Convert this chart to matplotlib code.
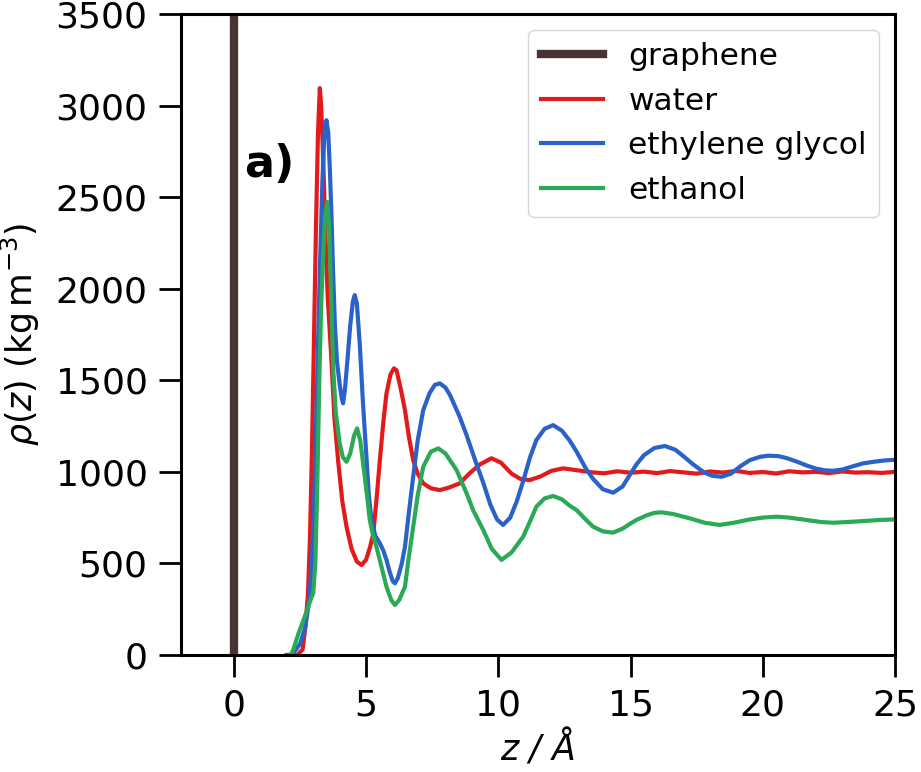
import matplotlib

matplotlib.use("Agg")
import matplotlib.pyplot as plt

# density profiles rho(z) next to a graphene sheet
graphene_z = 0.0

water_z = [
    2.0, 2.4, 2.6, 2.7, 2.8, 2.88, 2.95, 3.02, 3.1, 3.18, 3.25, 3.3, 3.38,
    3.46, 3.55, 3.69, 3.8, 3.94, 4.1, 4.26, 4.45, 4.65, 4.83, 5.0, 5.15,
    5.27, 5.4, 5.52, 5.65, 5.77, 5.92, 6.05, 6.15, 6.3, 6.47, 6.62, 6.78,
    6.95, 7.16, 7.45, 7.79, 8.15, 8.54, 8.9, 9.3, 9.74, 10.1, 10.5, 10.85,
    11.19, 11.6, 12.0, 12.45, 12.9, 13.5, 14.0, 14.5, 15.0, 15.5, 16.0,
    16.5, 17.0, 17.5, 18.0, 18.5, 19.0, 19.5, 20.0, 20.5, 21.0, 21.5, 22.0,
    22.5, 23.0, 23.5, 24.0, 24.5, 25.0,
]
water_rho = [
    0, 0, 30, 150, 330, 650, 1100, 1650, 2300, 2850, 3095, 3000, 2700,
    2300, 1950, 1610, 1300, 1064, 840, 700, 580, 510, 491, 520, 590,
    660, 860, 1064, 1270, 1428, 1530, 1565, 1555, 1460, 1337, 1190, 1064,
    990, 937, 910, 900, 915, 937, 990, 1040, 1074, 1050, 990, 960,
    955, 975, 1005, 1019, 1010, 998, 992, 1003, 995, 1001, 993,
    1004, 997, 990, 1002, 996, 1005, 994, 999, 991, 1003, 997, 1000,
    993, 1002, 996, 998, 994, 1000,
]

glycol_z = [
    2.2, 2.5, 2.7, 2.85, 2.95, 3.05, 3.15, 3.25, 3.35, 3.43, 3.5, 3.57,
    3.63, 3.69, 3.75, 3.82, 3.9, 4.0, 4.08, 4.13, 4.2, 4.3, 4.4, 4.5, 4.57,
    4.65, 4.76, 4.88, 5.02, 5.1, 5.2, 5.35, 5.52, 5.65, 5.77, 5.9, 6.0,
    6.09, 6.2, 6.35, 6.47, 6.62, 6.78, 6.95, 7.16, 7.4, 7.6, 7.79, 8.0,
    8.17, 8.54, 8.8, 9.18, 9.43, 9.7, 9.95, 10.18, 10.45, 10.7, 10.94,
    11.2, 11.44, 11.75, 12.07, 12.4, 12.7, 12.96, 13.3, 13.59, 13.95,
    14.34, 14.7, 15.0, 15.22, 15.5, 15.9, 16.3, 16.7, 17.0, 17.37, 17.8,
    18.1, 18.44, 18.8, 19.15, 19.51, 19.9, 20.2, 20.58, 20.9, 21.3, 21.65,
    22.0, 22.35, 22.66, 23.0, 23.4, 23.79, 24.2, 24.6, 25.0,
]
glycol_rho = [
    0, 60, 150, 300, 500, 900, 1500, 2100, 2600, 2860, 2920, 2850,
    2650, 2400, 2101, 1800, 1600, 1480, 1400, 1374, 1450, 1620, 1800, 1930,
    1965, 1920, 1700, 1380, 1064, 880, 737, 650, 610, 570, 519, 450, 405,
    391, 420, 500, 591, 780, 973, 1170, 1337, 1430, 1475, 1483, 1460,
    1420, 1300, 1200, 1040, 940, 820, 740, 710, 750, 840, 950,
    1080, 1174, 1235, 1255, 1225, 1170, 1110, 1020, 960, 905,
    886, 920, 990, 1040, 1090, 1130, 1141, 1120, 1085, 1040, 995,
    978, 973, 990, 1030, 1064, 1082, 1088, 1086, 1075, 1055, 1035,
    1018, 1008, 1006, 1012, 1030, 1046, 1055, 1062, 1066,
]

ethanol_z = [
    2.15, 2.24, 2.45, 2.68, 2.85, 3.0, 3.08, 3.15, 3.23, 3.3, 3.38, 3.45,
    3.53, 3.6, 3.68, 3.76, 3.85, 4.0, 4.12, 4.26, 4.4, 4.55, 4.66, 4.78,
    4.95, 5.05, 5.14, 5.25, 5.39, 5.55, 5.77, 5.95, 6.09, 6.25, 6.47, 6.6,
    6.78, 6.95, 7.16, 7.45, 7.73, 8.0, 8.17, 8.42, 8.8, 9.05, 9.43, 9.75,
    10.12, 10.5, 10.94, 11.2, 11.44, 11.75, 12.07, 12.4, 12.7, 12.96, 13.3,
    13.59, 13.95, 14.34, 14.7, 15.0, 15.22, 15.6, 15.9, 16.17, 16.6, 17.0,
    17.24, 17.8, 18.37, 18.9, 19.51, 20.0, 20.52, 21.0, 21.65, 22.2, 22.66,
    23.2, 23.79, 24.4, 25.0,
]
ethanol_rho = [
    0, 27, 120, 209, 280, 338, 500, 900, 1500, 1900, 2200, 2400,
    2474, 2350, 1950, 1556, 1330, 1156, 1080, 1055, 1100, 1200, 1237, 1170,
    973, 850, 737, 660, 591, 500, 373, 300, 273, 300, 373, 520,
    700, 870, 1028, 1110, 1128, 1100, 1064, 1010, 883, 790, 682, 580,
    519, 560, 646, 730, 810, 855, 868, 850, 815, 791, 740,
    700, 675, 668, 690, 718, 737, 762, 776, 779, 770, 755,
    746, 722, 710, 722, 740, 750, 755, 750, 737, 726, 722,
    726, 731, 737, 740,
]

x_ticks = [0, 5, 10, 15, 20, 25]
y_ticks = [0, 500, 1000, 1500, 2000, 2500, 3000, 3500]


def main():
    plt.rcParams["font.family"] = "DejaVu Sans"

    fig = plt.figure(figsize=(9.21, 7.72), dpi=100)
    ax = fig.add_axes([0.1965, 0.1516, 0.7753, 0.8303])

    ax.axvline(graphene_z, color="#4a3333", lw=6, label="graphene")
    ax.plot(water_z, water_rho, color="#e31a1c", lw=3, label="water")
    ax.plot(glycol_z, glycol_rho, color="#2b62c9", lw=3,
            label="ethylene glycol")
    ax.plot(ethanol_z, ethanol_rho, color="#2aa956", lw=3, label="ethanol")

    ax.set_xlim(-2, 25)
    ax.set_ylim(0, 3500)
    ax.set_xticks(x_ticks)
    ax.set_yticks(y_ticks)

    for side in ax.spines.values():
        side.set_linewidth(2.2)
    ax.tick_params(axis="both", direction="out", length=16, width=2,
                   labelsize=26, pad=8)

    ax.set_xlabel("z / Å", fontsize=25, style="italic", labelpad=6)
    ax.set_ylabel(r"$\rho(z)$ (kg$\,$m$^{-3}$)", fontsize=25, labelpad=10)

    ax.text(0.4, 2680, "a)", fontsize=32, fontweight="bold",
            ha="left", va="center")

    ax.legend(loc="upper right", fontsize=22.5, handlelength=2.0,
              labelspacing=0.5)

    fig.savefig("out.png", dpi=100)
    plt.close(fig)


if __name__ == "__main__":
    main()
